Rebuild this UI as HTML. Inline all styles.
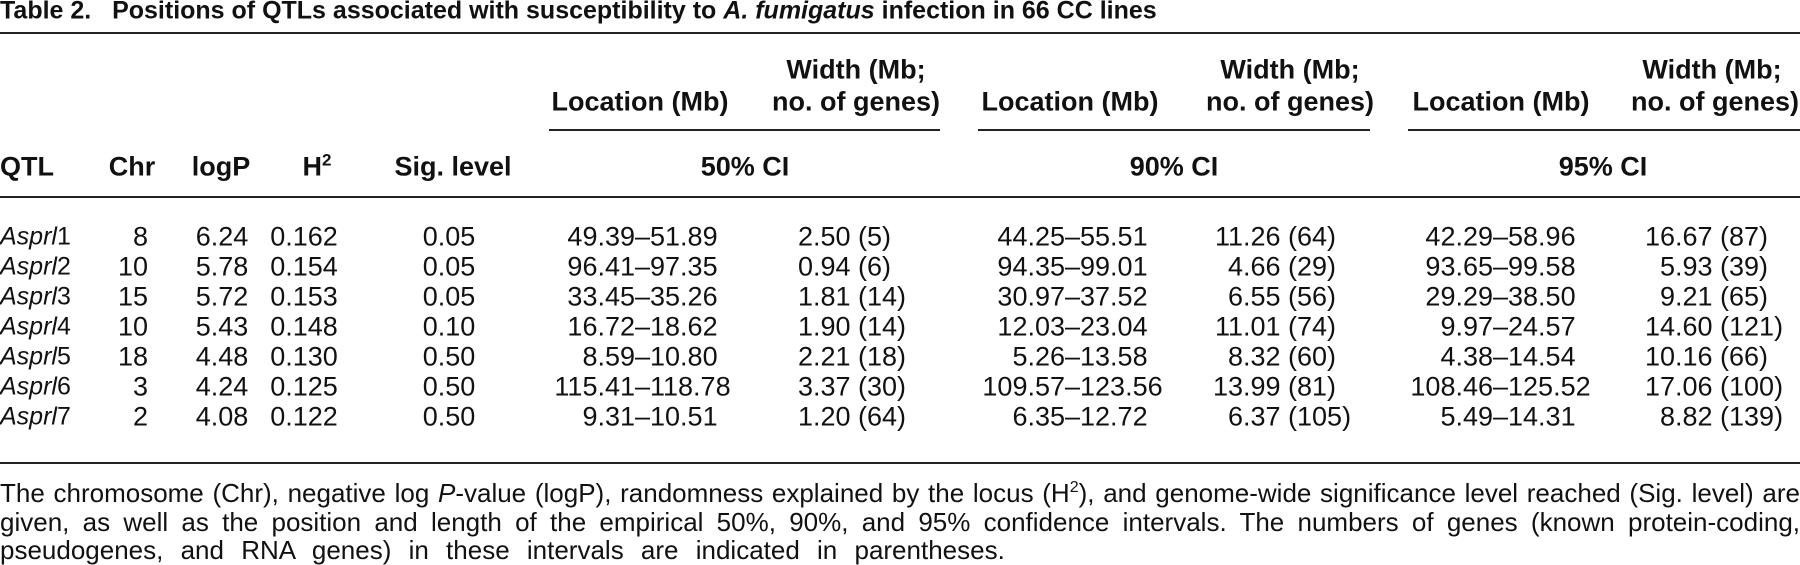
<!DOCTYPE html>
<html><head><meta charset="utf-8">
<style>
html,body{margin:0;padding:0;background:#fff;}
body{width:1800px;height:565px;position:relative;overflow:hidden;font-family:"Liberation Sans",sans-serif;color:#111;font-size:27px;}
.t{position:absolute;white-space:nowrap;line-height:1;transform:translateY(-50%);}
.b{font-weight:bold;}
.rule{position:absolute;background:#222;}
.c{transform:translate(-50%,-50%);}
.r{transform:translate(-100%,-50%);}
.fn{position:absolute;left:0;width:1800px;text-align:justify;text-align-last:justify;line-height:1;transform:translateY(-50%);font-size:26px;white-space:nowrap;}
</style></head>
<body>
<div class="t b" style="left:0;top:11px;font-size:25px">Table 2.&nbsp;&nbsp;&nbsp;Positions of QTLs associated with susceptibility to <i>A. fumigatus</i> infection in 66 CC lines</div>
<div class="rule" style="left:0;top:32px;width:1800px;height:2px"></div>

<div class="t b c" style="left:640px;top:102px">Location (Mb)</div>
<div class="t b c" style="left:856px;top:70px">Width (Mb;</div>
<div class="t b c" style="left:856px;top:102px">no. of genes)</div>
<div class="t b c" style="left:1070px;top:102px">Location (Mb)</div>
<div class="t b c" style="left:1290px;top:70px">Width (Mb;</div>
<div class="t b c" style="left:1290px;top:102px">no. of genes)</div>
<div class="t b c" style="left:1501px;top:102px">Location (Mb)</div>
<div class="t b c" style="left:1712px;top:70px">Width (Mb;</div>
<div class="t b r" style="left:1799px;top:102px">no. of genes)</div>

<div class="rule" style="left:549px;top:129px;width:391px;height:2px"></div>
<div class="rule" style="left:978px;top:129px;width:392px;height:2px"></div>
<div class="rule" style="left:1408px;top:129px;width:392px;height:2px"></div>

<div class="t b" style="left:0;top:167px">QTL</div>
<div class="t b c" style="left:132px;top:167px">Chr</div>
<div class="t b c" style="left:221px;top:167px">logP</div>
<div class="t b c" style="left:317px;top:167px">H<sup style="font-size:17px;vertical-align:10px;line-height:0">2</sup></div>
<div class="t b c" style="left:453px;top:167px">Sig. level</div>
<div class="t b c" style="left:745px;top:167px">50% CI</div>
<div class="t b c" style="left:1174px;top:167px">90% CI</div>
<div class="t b c" style="left:1603px;top:167px">95% CI</div>
<div class="rule" style="left:0;top:196px;width:1800px;height:2px"></div>

<div id="rows"></div>

<div class="rule" style="left:0;top:462px;width:1800px;height:2px"></div>

<div class="fn" style="top:493px">The chromosome (Chr), negative log <i>P</i>-value (logP), randomness explained by the locus (H<sup style="font-size:16px;vertical-align:10px;line-height:0">2</sup>), and genome-wide significance level reached (Sig. level) are</div>
<div class="fn" style="top:522px">given, as well as the position and length of the empirical 50%, 90%, and 95% confidence intervals. The numbers of genes (known protein-coding,</div>
<div class="t" style="left:0;top:550px;font-size:26px;word-spacing:10px">pseudogenes, and RNA genes) in these intervals are indicated in parentheses.</div>

<script>
const qtlNums=["1","2","3","4","5","6","7"];
const chrs=["8","10","15","10","18","3","2"];
const logPs=["6.24","5.78","5.72","5.43","4.48","4.24","4.08"];
const h2s=["0.162","0.154","0.153","0.148","0.130","0.125","0.122"];
const sigs=["0.05","0.05","0.05","0.10","0.50","0.50","0.50"];
const loc50=["49.39–51.89","96.41–97.35","33.45–35.26","16.72–18.62","8.59–10.80","115.41–118.78","9.31–10.51"];
const wid50=["2.50 (5)","0.94 (6)","1.81 (14)","1.90 (14)","2.21 (18)","3.37 (30)","1.20 (64)"];
const loc90=["44.25–55.51","94.35–99.01","30.97–37.52","12.03–23.04","5.26–13.58","109.57–123.56","6.35–12.72"];
const wid90=["11.26 (64)","4.66 (29)","6.55 (56)","11.01 (74)","8.32 (60)","13.99 (81)","6.37 (105)"];
const loc95=["42.29–58.96","93.65–99.58","29.29–38.50","9.97–24.57","4.38–14.54","108.46–125.52","5.49–14.31"];
const wid95=["16.67 (87)","5.93 (39)","9.21 (65)","14.60 (121)","10.16 (66)","17.06 (100)","8.82 (139)"];

const rowsEl=document.getElementById('rows');
function add(text,x,y,cls,name,fs){
  const d=document.createElement('div');
  d.className='t '+cls;
  d.style.left=x+'px';d.style.top=y+'px';
  if(fs) d.style.fontSize=fs+'px';
  d.innerHTML=text;
  
  
  rowsEl.appendChild(d);
}
function split(text,sep,x,y,name){
  const i=text.indexOf(sep);
  add(text.slice(0,i),x,y,'r',name+'-left');
  add(text.slice(i),x,y,'',name+'-right');
}
for(let i=0;i<qtlNums.length;i++){
  const y=237+i*30;
  add('<i>Asprl</i>'+qtlNums[i],0,y,'','qtl-name',25);
  add(chrs[i],148,y,'r','chr-value');
  add(logPs[i],222,y,'c','logp-value');
  add(h2s[i],304,y,'c','h2-value');
  add(sigs[i],449,y,'c','sig-level-value');
  split(loc50[i],'–',635,y,'location-50');
  split(wid50[i],'.',813,y,'width-50');
  split(loc90[i],'–',1065,y,'location-90');
  split(wid90[i],'.',1243,y,'width-90');
  split(loc95[i],'–',1493,y,'location-95');
  split(wid95[i],'.',1675,y,'width-95');
}
</script>
</body></html>
